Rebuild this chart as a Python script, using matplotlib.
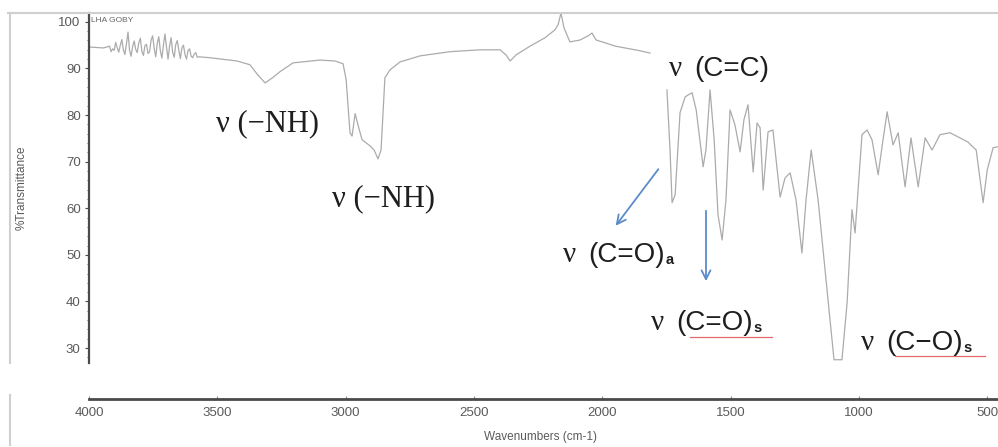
import matplotlib
matplotlib.use("Agg")
import matplotlib.pyplot as plt
from matplotlib.lines import Line2D
import numpy as np

# IR spectrum: wavenumber (cm-1) vs % transmittance
# part 1: 4000 -> ~1814 cm-1 (trace is broken after that)
wn1 = [4000, 3970, 3945, 3930,
       3920, 3914, 3908, 3902, 3896, 3890, 3884, 3878, 3872, 3866,
       3860, 3854, 3848, 3842, 3836, 3830, 3824, 3818, 3812, 3806,
       3800, 3794, 3788, 3782, 3776, 3770, 3764, 3758, 3752, 3746,
       3740, 3734, 3728, 3722, 3716, 3710, 3704, 3698, 3692, 3686,
       3680, 3674, 3668, 3662, 3656, 3650, 3644, 3638, 3632, 3626,
       3620, 3614, 3608, 3602, 3596, 3590, 3584, 3578, 3572,
       3528, 3423, 3373, 3345, 3314, 3285, 3256, 3205, 3100, 3041, 3010,
       2998, 2983, 2975, 2963, 2952, 2936, 2905, 2889, 2874, 2862, 2847,
       2827, 2788, 2710, 2593, 2476, 2398, 2375, 2359, 2336, 2281, 2223,
       2184, 2172, 2161, 2149, 2126, 2087, 2055, 2040, 2024, 1989, 1950,
       1892, 1853, 1814]
t1 = [94.6, 94.5, 94.4, 94.6,
      94.8, 93.6, 94.2, 93.9, 95.6, 94.4, 93.5, 95.0, 96.2, 94.0,
      93.0, 95.3, 97.8, 93.9, 92.6, 94.7, 95.9, 94.1, 93.4, 95.5,
      96.5, 93.7, 92.8, 94.9, 95.2, 93.2, 93.6, 96.1, 97.0, 94.3,
      92.5, 95.4, 96.8, 93.8, 92.2, 95.0, 97.4, 94.6, 92.0, 94.8,
      96.6, 93.5, 92.4, 95.1, 96.0, 93.9, 92.1, 94.4, 95.0, 93.0,
      92.0, 93.9, 94.2, 92.6, 92.3, 93.1, 93.4, 92.4, 92.5,
      92.3, 91.6, 90.8, 88.8, 86.9, 88.0, 89.3, 91.2, 91.8, 91.6, 91.0,
      87.6, 76.2, 75.5, 80.3, 77.9, 74.7, 73.4, 72.5, 70.6, 72.5, 88.0,
      89.7, 91.4, 92.7, 93.6, 94.0, 94.0, 92.9, 91.6, 92.9, 94.8, 96.6,
      98.3, 99.4, 101.9, 98.7, 95.7, 96.1, 97.0, 97.6, 96.1, 95.5, 94.8,
      94.2, 93.8, 93.3]

# part 2: fingerprint region ~1748 -> 458 cm-1
wn2 = [1748, 1736, 1728, 1716, 1697, 1677, 1666, 1650, 1634, 1607,
       1596, 1580, 1564, 1549, 1533, 1518, 1502, 1483, 1463, 1448,
       1432, 1412, 1397, 1385, 1373, 1354, 1335, 1307, 1288, 1268,
       1245, 1222, 1206, 1186, 1159, 1128, 1097, 1066, 1046, 1027,
       1015, 988, 968, 949, 925, 906, 890, 867, 847, 820,
       797, 769, 742, 715, 684, 645, 606, 575, 543, 516,
       500, 477, 458]
t2 = [85.4, 72.5, 61.2, 62.9, 80.5, 83.9, 84.3, 84.8, 81.1, 68.9,
      72.5, 85.4, 74.7, 58.6, 53.2, 61.8, 81.1, 77.9, 72.1, 79.0,
      82.2, 67.8, 78.3, 77.3, 63.9, 76.4, 76.8, 62.4, 66.5, 67.6,
      61.8, 50.4, 61.8, 72.5, 61.8, 44.6, 27.5, 27.5, 39.7, 59.7,
      54.7, 75.8, 76.8, 74.7, 67.2, 74.7, 80.7, 73.6, 76.2, 64.6,
      75.1, 64.6, 75.1, 72.5, 75.8, 76.2, 75.1, 74.2, 72.5, 61.2,
      68.2, 73.0, 73.2]

y_ticks = [30, 40, 50, 60, 70, 80, 90, 100]
x_ticks = [4000, 3500, 3000, 2500, 2000, 1500, 1000, 500]

LINE = "#ababab"
AXIS = "#4a4a4a"
LABEL = "#5a5a5a"
INK = "#1e1e1e"
ARROW = "#5b8cc8"
SERIF = "Liberation Serif"
SANS = "Liberation Sans"

W, H = 998, 447


def fx(px):
    return px / W


def fy(py):
    return 1 - py / H


fig = plt.figure(figsize=(W / 100, H / 100), dpi=100)

# ---- spectrum panel (no bottom spine, the x axis sits in its own strip) ----
ax = fig.add_axes([fx(89), fy(363), (W - 89) / W, (363 - 13) / H])
ax.plot(wn1, t1, color=LINE, lw=0.9)
ax.plot(wn2, t2, color=LINE, lw=0.9)
ax.set_xlim(4000, 458)
ax.set_ylim(26.8, 101.9)
for s in ("top", "right", "bottom"):
    ax.spines[s].set_visible(False)
ax.spines["left"].set_color(AXIS)
ax.spines["left"].set_linewidth(1.6)
ax.set_xticks([])
ax.set_yticks(y_ticks)
ax.set_yticks(np.arange(28, 102, 2), minor=True)
ax.tick_params(axis="y", which="major", length=3, width=0.8, color=AXIS,
               labelcolor=LABEL, labelsize=9.5, pad=3)
ax.tick_params(axis="y", which="minor", length=1.5, width=0.6, color=AXIS)
for lab in ax.get_yticklabels():
    lab.set_family(SANS)
ax.patch.set_alpha(0)

# ---- x axis strip ----
axx = fig.add_axes([fx(89), fy(399), (W - 89) / W, 1 / H])
axx.set_xlim(4000, 458)
axx.set_yticks([])
for s in ("top", "right", "left"):
    axx.spines[s].set_visible(False)
axx.spines["bottom"].set_color(AXIS)
axx.spines["bottom"].set_linewidth(2.0)
axx.set_xticks(x_ticks)
axx.tick_params(axis="x", direction="in", length=2, color="#888888",
                labelcolor=LABEL, labelsize=9.5, pad=6)
for lab in axx.get_xticklabels():
    lab.set_family(SANS)
axx.patch.set_alpha(0)

fig.text(fx(540), fy(437), "Wavenumbers (cm-1)", ha="center", va="center",
         family=SANS, fontsize=8.5, color=LABEL)
fig.text(fx(22), fy(188), "%Transmittance", rotation=90, ha="center",
         va="center", family=SANS, fontsize=8.5, color=LABEL)
fig.text(fx(91), fy(20), "LHA GOBY", ha="left", va="center", family=SANS,
         fontsize=6, color="#666666")

# screenshot border lines
for xs, ys in (([8, 998], [13, 13]), ([10, 10], [13, 363]), ([10, 10], [395, 445])):
    fig.add_artist(Line2D([fx(v) for v in xs], [fy(v) for v in ys],
                          color="#cfcfcf", lw=1.5))

# ---- band assignments ----
fig.text(fx(216), fy(124), "ν (−NH)", family=SERIF, fontsize=22, color=INK, va="center")
fig.text(fx(332), fy(199), "ν (−NH)", family=SERIF, fontsize=22, color=INK, va="center")


def band(x_nu, x_grp, y, grp):
    fig.text(fx(x_nu), fy(y), "ν", family=SERIF, fontsize=21, color=INK, va="center")
    return fig.text(fx(x_grp), fy(y), grp, family=SANS, fontsize=20, color=INK,
                    va="center")


band(669, 694, 69, "(C=C)")
subbed = [(band(563, 588, 255, "(C=O)"), "a"),
          (band(651, 676, 323, "(C=O)"), "s"),
          (band(861, 886, 343, "(C−O)"), "s")]

# subscripts sit right after the group text
fig.canvas.draw()
for t, sub in subbed:
    bb = t.get_window_extent()
    fig.text((bb.x1 + 0.5) / W, (bb.y0 + 1) / H, sub, family=SANS, fontsize=10.5,
             color=INK, weight="bold", ha="left", va="bottom")

# red spell-check underlines
for xs, y in (([690, 772], 337), ([895, 985], 356)):
    fig.add_artist(Line2D([fx(v) for v in xs], [fy(y), fy(y)],
                          color="#e26a6a", lw=0.9))

# arrows
for (x0, y0), (x1, y1) in (((660, 167), (614, 228)), ((706, 208), (706, 284))):
    ax.annotate("", xy=(fx(x1), fy(y1)), xycoords="figure fraction",
                xytext=(fx(x0), fy(y0)), textcoords="figure fraction",
                arrowprops=dict(arrowstyle="->", color=ARROW, lw=1.3,
                                mutation_scale=16))

fig.savefig("out.png", dpi=100, facecolor="white")
